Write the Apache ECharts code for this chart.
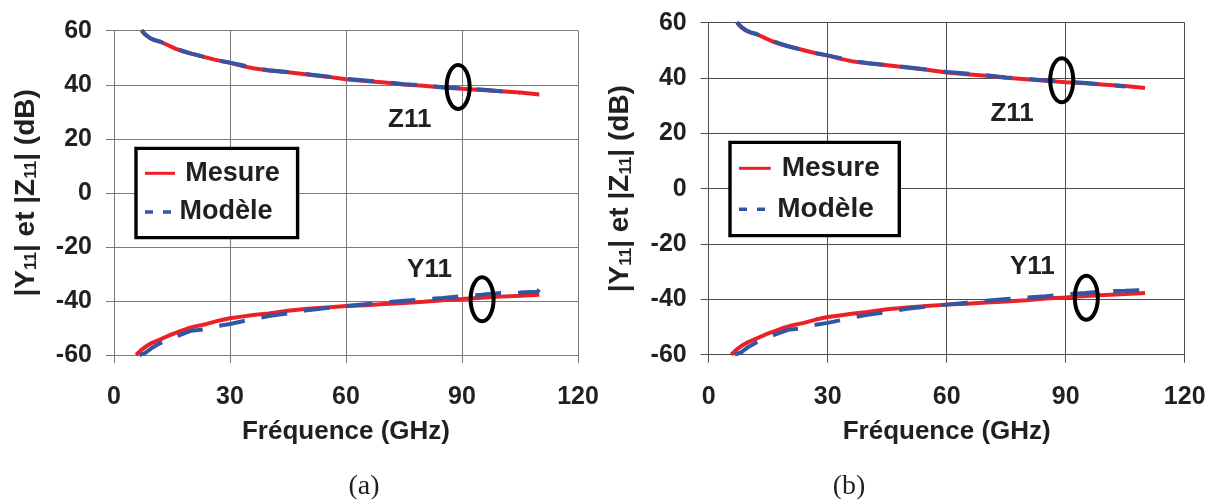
<!DOCTYPE html>
<html>
<head>
<meta charset="utf-8">
<script src="https://cdn.jsdelivr.net/npm/echarts@6/dist/echarts.min.js"></script>
<style>
html,body{margin:0;padding:0;background:#fff;}
#c{width:1219px;height:499px;}
</style>
</head>
<body>
<div id="c"></div>
<script>
// ---- data ----
const xTicks = [0, 30, 60, 90, 120];
const yTicks = [-60, -40, -20, 0, 20, 40, 60];

const z11MesureFreq = [7.2, 8, 9.3, 10.5, 12, 14, 16, 18, 20, 23, 26, 30, 33, 36, 40, 45, 50, 55, 60, 65, 70, 75, 80, 85, 90, 95, 100, 105, 110];
const z11MesureDb   = [60, 58.6, 57.2, 56.5, 55.9, 54.6, 53.3, 52.3, 51.5, 50.4, 49.3, 48.1, 47.0, 46.1, 45.3, 44.6, 43.8, 43.0, 42.0, 41.4, 40.8, 40.1, 39.6, 39.0, 38.5, 38.1, 37.6, 37.1, 36.4];

const z11ModeleFreq = [7.1, 8, 9.3, 10.5, 12, 14, 16, 18, 20, 23, 26, 30, 33, 36, 40, 45, 50, 55, 60, 65, 70, 75, 80, 85, 90, 95, 100, 105];
const z11ModeleDb   = [60.2, 58.8, 57.3, 56.5, 55.9, 54.7, 53.4, 52.4, 51.5, 50.4, 49.2, 48.2, 47.3, 46.2, 45.4, 44.7, 43.9, 43.1, 42.2, 41.6, 41.0, 40.2, 39.8, 39.1, 38.7, 38.2, 37.6, 36.9];

const y11MesureFreq = [5.7, 7, 8.5, 10, 12, 14.5, 17, 19, 21, 24, 27, 30, 33, 36, 40, 45, 50, 55, 60, 65, 70, 75, 80, 85, 90, 95, 100, 105, 110];
const y11MesureDb   = [-60, -58.2, -56.6, -55.4, -54.2, -52.6, -51.3, -50.2, -49.4, -48.5, -47.3, -46.4, -45.8, -45.2, -44.6, -43.6, -42.9, -42.4, -41.9, -41.6, -41.1, -40.8, -40.3, -39.7, -39.3, -38.8, -38.4, -38.1, -37.7];

const y11ModeleFreq = [6.6, 8, 10, 12, 14, 17, 20, 24, 27, 30, 33, 37, 40, 45, 50, 55, 60, 65, 70, 75, 80, 85, 90, 95, 100, 105, 109.5, 110];
const y11ModeleDb   = [-60, -59.3, -57.2, -55.6, -54.2, -52.6, -51.0, -50.4, -49.2, -48.5, -47.6, -46.4, -45.6, -44.6, -43.4, -42.6, -41.9, -41.2, -40.5, -39.9, -39.4, -38.9, -38.2, -37.7, -37.1, -36.9, -36.6, -35.8];

const seriesNames = ['Mesure', 'Modèle'];
const curveLabels = ['Z11', 'Y11'];
const panelLabels = ['(a)', '(b)'];
// annotation anchors in data coordinates [GHz, dB]
const labelAnchors = [[76.5, 27], [81.6, -28.3]];
const ellipseAnchors = [[89.0, 39.2], [95.2, -39.4]];

// ---- styles ----
const RED = '#ec2027';
const BLUE = '#3355a5';
const TXT = '#231f20';
const SANS = '"Liberation Sans", Arial, sans-serif';
const SERIF = '"Liberation Serif", "Times New Roman", serif';

const panels = [
  { left: 114, top: 30.7, width: 464, height: 324.3, grid: '#7a7a7a', labelX: 364 },
  { left: 708.7, top: 22.7, width: 476, height: 332, grid: '#4d4d4d', labelX: 849 }
];

function zip(a, b) { return a.map((v, i) => [v, b[i]]); }

const chart = echarts.init(document.getElementById('c'), null, { renderer: 'canvas' });

const grids = [], xAxes = [], yAxes = [], series = [];
panels.forEach((p, i) => {
  grids.push({ left: p.left, top: p.top, width: p.width, height: p.height, containLabel: false, outerBoundsMode: 'none', show: false });
  xAxes.push({
    type: 'value', gridIndex: i, min: xTicks[0], max: xTicks[xTicks.length - 1], interval: 30,
    name: 'Fréquence (GHz)', nameLocation: 'middle', nameGap: 64,
    nameTextStyle: { fontFamily: SANS, fontWeight: 'bold', fontSize: 26, color: TXT },
    axisLine: { show: true, onZero: false, lineStyle: { color: p.grid, width: 1 } },
    axisTick: { show: true, length: 8, lineStyle: { color: p.grid, width: 1 } },
    axisLabel: { fontFamily: SANS, fontWeight: 'bold', fontSize: 25, color: TXT, margin: 30 },
    splitLine: { show: true, showMinLine: true, showMaxLine: true, lineStyle: { color: p.grid, width: 1 } }
  });
  yAxes.push({
    type: 'value', gridIndex: i, min: yTicks[0], max: yTicks[yTicks.length - 1], interval: 20,
    name: '|Y{s|11}| et |Z{s|11}| (dB)', nameLocation: 'middle', nameGap: 74,
    nameTextStyle: { fontFamily: SANS, fontWeight: 'bold', fontSize: 28, color: TXT,
      rich: { s: { fontFamily: SANS, fontWeight: 'bold', fontSize: 17, color: TXT, verticalAlign: 'bottom' } } },
    axisLine: { show: true, onZero: false, lineStyle: { color: p.grid, width: 1 } },
    axisTick: { show: true, length: 8, lineStyle: { color: p.grid, width: 1 } },
    axisLabel: { fontFamily: SANS, fontWeight: 'bold', fontSize: 25, color: TXT, margin: 22 },
    splitLine: { show: true, showMinLine: true, showMaxLine: true, lineStyle: { color: p.grid, width: 1 } }
  });
  const common = { type: 'line', xAxisIndex: i, yAxisIndex: i, symbol: 'none', showSymbol: false, clip: true, silent: true, animation: false };
  series.push(Object.assign({}, common, { name: seriesNames[0], data: zip(z11MesureFreq, z11MesureDb), lineStyle: { color: RED, width: 4 }, itemStyle: { color: RED }, z: 2 }));
  series.push(Object.assign({}, common, { name: seriesNames[0], data: zip(y11MesureFreq, y11MesureDb), lineStyle: { color: RED, width: 4 }, itemStyle: { color: RED }, z: 2 }));
  series.push(Object.assign({}, common, { name: seriesNames[1], data: zip(z11ModeleFreq, z11ModeleDb), lineStyle: { color: BLUE, width: 4, type: [26, 17] }, itemStyle: { color: BLUE }, z: 3 }));
  series.push(Object.assign({}, common, { name: seriesNames[1], data: zip(y11ModeleFreq, y11ModeleDb), lineStyle: { color: BLUE, width: 4, type: [26, 17] }, itemStyle: { color: BLUE }, z: 3 }));
});

chart.setOption({
  animation: false,
  backgroundColor: '#ffffff',
  grid: grids, xAxis: xAxes, yAxis: yAxes, series: series
});

// ---- annotations (legend boxes, curve labels, ellipses, panel labels) ----
const legendBoxes = [
  { x: 134.3, y: 146.7, w: 165, h: 92.6, s1: 145, s2: 175, l1: 173.3, t1: 185.3, l2: 212, t2: 179.5, fs: 27 },
  { x: 728.3, y: 140.7, w: 172.7, h: 96.6, s1: 739, s2: 770.7, l1: 168.3, t1: 781.7, l2: 209.3, t2: 777.3, fs: 28 }
];
const g = [];
panels.forEach((p, i) => {
  const L = legendBoxes[i];
  const bw = 3.4;
  g.push({ type: 'rect', shape: { x: L.x + bw / 2, y: L.y + bw / 2, width: L.w - bw, height: L.h - bw },
    style: { fill: '#fff', stroke: '#000', lineWidth: bw }, z: 10 });
  g.push({ type: 'line', shape: { x1: L.s1, y1: L.l1, x2: L.s2, y2: L.l1 }, style: { stroke: RED, lineWidth: 3 }, z: 11 });
  g.push({ type: 'text', x: L.t1, y: L.l1, style: { text: seriesNames[0], fill: TXT, font: 'bold ' + L.fs + 'px ' + SANS, verticalAlign: 'middle', align: 'left' }, z: 11 });
  g.push({ type: 'line', shape: { x1: L.s1, y1: L.l2, x2: L.s2 - 4, y2: L.l2 }, style: { stroke: BLUE, lineWidth: 3.5, lineDash: [8, 10] }, z: 11 });
  g.push({ type: 'text', x: L.t2, y: L.l2, style: { text: seriesNames[1], fill: TXT, font: 'bold ' + L.fs + 'px ' + SANS, verticalAlign: 'middle', align: 'left' }, z: 11 });

  labelAnchors.forEach((a, k) => {
    const pt = chart.convertToPixel({ gridIndex: i }, a);
    g.push({ type: 'text', x: pt[0], y: pt[1], style: { text: curveLabels[k], fill: TXT, font: 'bold 26px ' + SANS, align: 'center', verticalAlign: 'middle' }, z: 11 });
  });
  ellipseAnchors.forEach((a) => {
    const pt = chart.convertToPixel({ gridIndex: i }, a);
    g.push({ type: 'ellipse', shape: { cx: pt[0], cy: pt[1], rx: 11.5, ry: 22 }, style: { fill: null, stroke: '#000', lineWidth: 4 }, z: 12 });
  });
  g.push({ type: 'text', x: p.labelX, y: 487, style: { text: panelLabels[i], fill: TXT, font: '28px ' + SERIF, align: 'center', verticalAlign: 'middle' }, z: 11 });
});
chart.setOption({ graphic: g });
</script>
</body>
</html>
